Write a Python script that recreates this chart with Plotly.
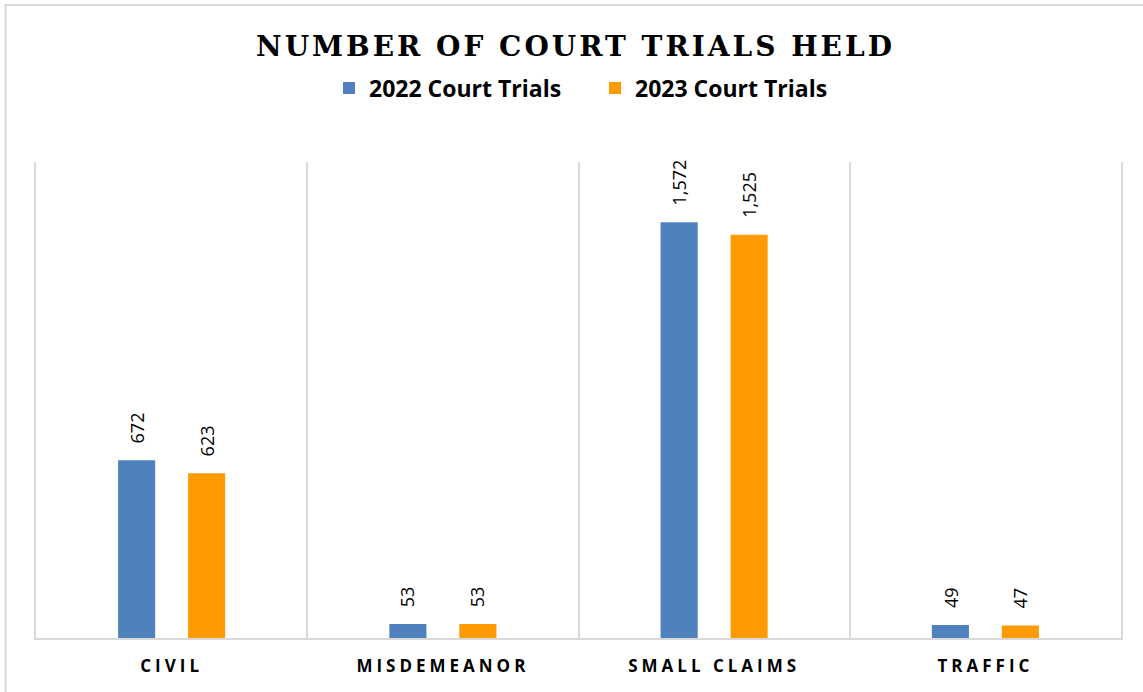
import plotly.graph_objects as go

categories = ["CIVIL", "MISDEMEANOR", "SMALL CLAIMS", "TRAFFIC"]
series_names = ["2022 Court Trials", "2023 Court Trials"]
trials_2022 = [672, 53, 1572, 49]
trials_2023 = [623, 53, 1525, 47]
colors = ["#4f81bd", "#ff9a00"]

fig = go.Figure()
for name, vals, col in zip(series_names, [trials_2022, trials_2023], colors):
    fig.add_trace(go.Bar(x=categories, y=vals, name=name, marker=dict(color=col, line=dict(width=0))))

# data labels
for vals, shift in zip([trials_2022, trials_2023], [-35, 35]):
    for c, v in zip(categories, vals):
        fig.add_annotation(x=c, y=v, xref="x", yref="y", text=f"{v:,}", showarrow=False,
                           textangle=-90, yanchor="bottom", xanchor="center", xshift=shift, yshift=15,
                           font=dict(family="Open Sans", size=18, color="#000000"))

ticktext = [f'<span style="letter-spacing:4px">{c}</span>' for c in categories]

fig.update_layout(
    width=1143, height=692,
    margin=dict(l=36, r=22, t=162, b=54),
    paper_bgcolor="white", plot_bgcolor="white",
    barmode="group", bargap=0.484, bargroupgap=0.47,
    title=dict(text='<span style="letter-spacing:3px"><b>NUMBER OF COURT TRIALS HELD</b></span>',
               x=575.5 / 1143, xanchor="center", y=1 - 46.5 / 692, yanchor="middle", yref="container",
               xref="container",
               font=dict(family="DejaVu Serif", size=28, color="#000000")),
    legend=dict(orientation="h", x=(329 - 36) / 1085, xanchor="left", y=(638 - 88) / 476, yanchor="middle",
                font=dict(family="Open Sans", size=23, color="#000000", weight="bold"),
                entrywidth=221, entrywidthmode="pixels", itemwidth=30, bgcolor="rgba(0,0,0,0)"),
    xaxis=dict(type="category", tickson="boundaries", showgrid=True, gridcolor="#d9d9d9", gridwidth=1.5,
               showline=True, linecolor="#d9d9d9", linewidth=2, ticks="", tickvals=categories, ticktext=ticktext,
               ticklabelstandoff=12,
               tickfont=dict(family="Open Sans", size=17, color="#000000", weight="bold"), zeroline=False),
    yaxis=dict(range=[0, 1800], showgrid=False, showticklabels=False, zeroline=False,
               showline=True, mirror=True, linecolor="#d9d9d9", linewidth=2, ticks=""),
    showlegend=True,
)

# outer chart border (cropped at right/bottom)
fig.add_shape(type="rect", xref="paper", yref="paper",
              x0=(5.5 - 36) / 1085, x1=(1180 - 36) / 1085, y0=(638 - 740) / 476, y1=(638 - 5) / 476,
              line=dict(color="#d9d9d9", width=2), fillcolor="rgba(0,0,0,0)", layer="below")

fig.write_html("out.html", config={"displayModeBar": False},
               post_script="document.body.style.margin='0';document.body.style.overflow='hidden';")
